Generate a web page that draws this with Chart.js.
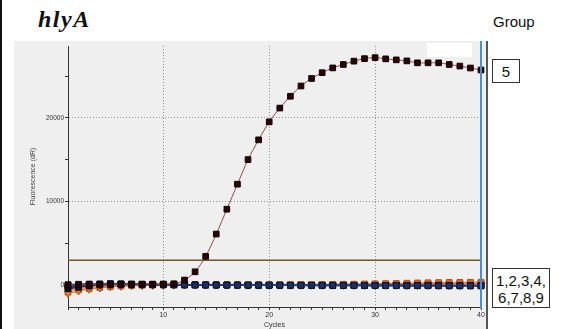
<!DOCTYPE html>
<html>
<head>
<meta charset="utf-8">
<script src="https://cdn.jsdelivr.net/npm/chart.js"></script>
<style>
  body { margin: 0; width: 561px; height: 329px; overflow: hidden; background: #fff; position: relative; font-family: "Liberation Sans", Arial, sans-serif; color: #111; }
  #borde { position: absolute; left: 0; top: 0; width: 2px; height: 329px; background: #111; }
  #titulo { position: absolute; left: 38px; top: 6px; font: italic bold 24px "Liberation Serif", serif; letter-spacing: 1.5px; }
  #grupo { position: absolute; left: 493px; top: 14px; font-size: 15px; line-height: 15px; }
  .caja { position: absolute; border: 1px solid #333; background: #fff; font-size: 15px; line-height: 17px; text-align: center; box-sizing: border-box; }
  #panel { position: absolute; left: 14px; top: 41px; width: 472px; height: 288px; background: #efefef; border-right: 2px solid #555; }
  #tapa { position: absolute; left: 427px; top: 43px; width: 45px; height: 14px; background: #fff; }
</style>
</head>
<body>
<div id="borde"></div>
<div id="titulo">hlyA</div>
<div id="grupo">Group</div>
<div id="panel"><canvas id="grafico"></canvas></div>
<div id="tapa"></div>
<div class="caja" style="left:492px;top:59px;width:28px;height:24px;padding-top:3px;">5</div>
<div class="caja" style="left:492px;top:268px;width:58px;height:40px;padding-top:3px;">1,2,3,4,<br>6,7,8,9</div>
<script>
// DATOS
const ciclos = [1, 2, 3, 4, 5, 6, 7, 8, 9, 10, 11, 12, 13, 14, 15, 16, 17, 18, 19, 20,
  21, 22, 23, 24, 25, 26, 27, 28, 29, 30, 31, 32, 33, 34, 35, 36, 37, 38, 39, 40];
const muestra5 = [0, 50, 80, 100, 120, 120, 130, 130, 140, 150, 180, 620, 1610, 3450, 6120, 9090, 12080, 15020, 17380, 19530,
  21180, 22590, 23820, 24720, 25410, 25980, 26390, 26790, 27090, 27210, 27060, 26940, 26820, 26590, 26590, 26590, 26390, 26200, 25970, 25730];
const muestra1 = [-60, 0, 60, 120, 200, 150, 110, 90, 70, 60, 50, 40, 30, 30, 20, 20, 10, 10, 0, 0,
  0, -10, -10, -20, -20, -20, -30, -30, -30, -40, -40, -40, -50, -50, -50, -60, -60, -60, -70, -80];
const muestra2 = [-420, -250, -80, 40, 110, 120, 110, 100, 90, 80, 70, 60, 50, 40, 40, 30, 30, 20, 20, 20,
  10, 10, 10, 0, 0, 0, 0, 0, -10, -10, -10, -10, -20, -20, -20, -20, -30, -30, -30, -40];
const muestra3 = [-200, -120, -30, 50, 90, 100, 90, 80, 70, 60, 50, 50, 40, 40, 30, 30, 30, 20, 20, 20,
  20, 10, 10, 10, 10, 10, 0, 0, 0, 0, 0, 0, -10, -10, -10, -10, -20, -20, -20, -20];
const muestra4 = [80, 120, 150, 170, 180, 170, 150, 130, 110, 90, 80, 70, 60, 50, 40, 30, 20, 10, 0, 0,
  -10, -10, -20, -20, -30, -30, -40, -40, -40, -50, -50, -50, -60, -60, -60, -60, -70, -70, -70, -70];
const muestra6 = [-1000, -680, -480, -340, -200, -120, -60, -20, 0, 20, 30, 40, 40, 40, 40, 40, 40, 40, 50, 50,
  50, 50, 60, 60, 70, 70, 80, 90, 100, 110, 120, 140, 160, 180, 200, 220, 240, 260, 270, 280];
const muestra7 = [-820, -560, -400, -280, -160, -90, -40, 0, 20, 40, 50, 60, 60, 60, 60, 60, 60, 60, 70, 70,
  80, 80, 90, 90, 100, 110, 120, 140, 160, 180, 200, 220, 250, 280, 300, 320, 340, 350, 360, 370];
const muestra8 = [-600, -400, -280, -180, -100, -50, -20, 0, 10, 20, 30, 30, 30, 30, 30, 30, 30, 30, 40, 40,
  40, 40, 50, 50, 50, 60, 60, 70, 80, 90, 100, 110, 120, 130, 140, 150, 160, 170, 180, 190];
const muestra9 = [-300, -180, -60, 30, 80, 90, 80, 70, 60, 50, 40, 30, 30, 20, 20, 10, 10, 10, 0, 0,
  0, 0, 0, 0, -10, -10, -10, -10, -10, -20, -20, -20, -20, -20, -30, -30, -30, -30, -30, -40];
const umbral = 3000;
const cicloFinal = 40;
const yTicks = [0, 5000, 10000, 15000, 20000, 25000];
const yEtiquetas = [0, 10000, 20000];
const xEtiquetas = [10, 20, 30, 40];
const xRejilla = [10, 20, 30];
const yRejilla = [10000, 20000];
// DATOS END

function puntos(valores) {
  return ciclos.map((c, i) => ({ x: c, y: valores[i] }));
}

function serie(nombre, valores, relleno, borde, linea, estilo, giro, grosor) {
  return {
    label: nombre,
    data: puntos(valores),
    pointStyle: estilo,
    rotation: giro || 0,
    pointRadius: 4,
    pointBackgroundColor: relleno,
    pointBorderColor: borde,
    pointBorderWidth: 1,
    borderColor: linea,
    borderWidth: grosor || 1,
    tension: 0.3,
    clip: false,
  };
}

// lineas de umbral y ciclo final
const lineasExtra = {
  id: "lineasExtra",
  beforeDatasetsDraw(chart) {
    const { ctx, chartArea, scales } = chart;
    const y = scales.y.getPixelForValue(umbral);
    ctx.save();
    ctx.strokeStyle = "#6e5a28";
    ctx.lineWidth = 1.5;
    ctx.beginPath();
    ctx.moveTo(chartArea.left, y);
    ctx.lineTo(chartArea.right, y);
    ctx.stroke();
    ctx.restore();
  },
  afterDatasetsDraw(chart) {
    const { ctx, chartArea, scales } = chart;
    const x = scales.x.getPixelForValue(cicloFinal);
    ctx.save();
    ctx.strokeStyle = "#4a8fcb";
    ctx.lineWidth = 2;
    ctx.beginPath();
    ctx.moveTo(x, 0);
    ctx.lineTo(x, chartArea.bottom + 2);
    ctx.stroke();
    ctx.restore();
  },
};

function grafico() {
  const data = {
    datasets: [
      serie("5", muestra5, "#2a0505", "#120000", "#8a4b4b", "rect"),
      serie("1", muestra1, "#1f2f63", "#0f1a3a", "#27407a", "rect", 0, 1.5),
      serie("2", muestra2, "#151515", "#000", "#1b2f6b", "rect", 0, 1.5),
      serie("3", muestra3, "#22326a", "#101a3a", "#27407a", "triangle", 180, 1.5),
      serie("4", muestra4, "#333", "#111", "#2a3a6a", "rect", 0, 1.5),
      serie("6", muestra6, "#f27a28", "#b4521a", "#e07030", "triangle", 180),
      serie("7", muestra7, "#f07a2a", "#a85018", "#e07030", "rect"),
      serie("8", muestra8, "#f5893a", "#b4521a", "#e88040", "triangle", 180),
      serie("9", muestra9, "#1f2f63", "#0f1a3a", "#27407a", "rect", 0, 1.5),
    ],
  };
  const config = {
    type: "line",
    data: data,
    options: {
      responsive: true,
      maintainAspectRatio: false,
      animation: false,
      layout: { padding: { left: 0, right: 3, top: 2, bottom: 0 } },
      plugins: { legend: { display: false }, tooltip: { enabled: false } },
      scales: {
        x: {
          type: "linear",
          min: 1,
          max: 40,
          afterFit: (s) => { s.height = 22; },
          ticks: {
            stepSize: 1,
            autoSkip: false,
            maxRotation: 0,
            padding: 1,
            color: "#333",
            font: { size: 7, family: "Liberation Sans" },
            callback: (v) => (xEtiquetas.includes(v) ? v : ""),
          },
          grid: {
            color: (c) => (c.tick && xRejilla.includes(c.tick.value) ? "#8f8f8f" : "rgba(0,0,0,0)"),
            tickColor: "#333",
            tickLength: 3,
          },
          border: { color: "#333", width: 1, dash: [1, 2] },
          title: {
            display: true,
            text: "Cycles",
            color: "#333",
            padding: 0,
            font: { size: 7, family: "Liberation Sans" },
          },
        },
        y: {
          min: -2600,
          max: 28600,
          afterFit: (s) => { s.width = 54; },
          afterBuildTicks: (s) => { s.ticks = yTicks.map((v) => ({ value: v })); },
          ticks: {
            autoSkip: false,
            padding: 1,
            color: "#333",
            font: { size: 6.5, family: "Liberation Sans" },
            callback: (v) => (yEtiquetas.includes(v) ? v : ""),
          },
          grid: {
            color: (c) => (c.tick && yRejilla.includes(c.tick.value) ? "#8f8f8f" : "rgba(0,0,0,0)"),
            tickColor: "#333",
            tickLength: 3,
          },
          border: { color: "#333", width: 1, dash: [1, 2] },
          title: {
            display: true,
            text: "Fluorescence (dR)",
            color: "#444",
            padding: { top: 15, bottom: 0 },
            font: { size: 7, family: "Liberation Sans" },
          },
        },
      },
    },
    plugins: [lineasExtra],
  };
  new Chart(document.getElementById("grafico"), config);
}

grafico();
</script>
</body>
</html>
